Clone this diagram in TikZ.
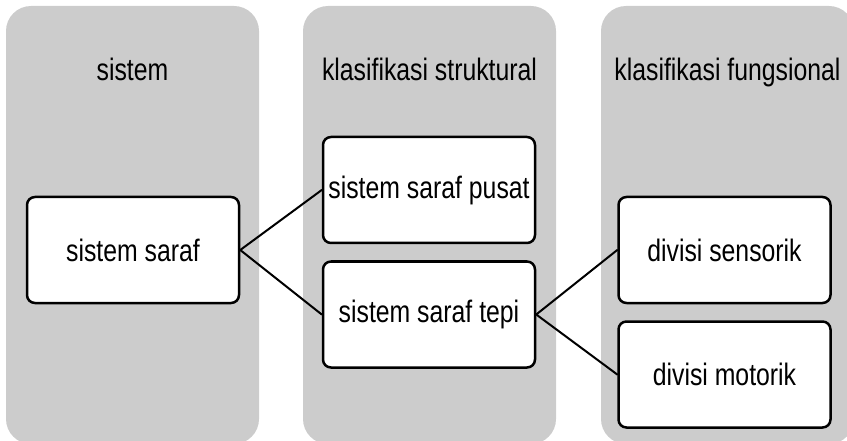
\documentclass[tikz,border=0pt]{standalone}
\usepackage{fontspec}
\setmainfont[FakeStretch=0.8]{Liberation Sans}
\usetikzlibrary{positioning}

\definecolor{panelgray}{RGB}{204,204,204}

\pgfdeclarelayer{panelfill}
\pgfsetlayers{panelfill,main}
\newcommand{\PanelCol}[2]{%
  \begin{pgfonlayer}{panelfill}
    \path[fill=panelgray, rounded corners=25pt] (#1,-6) rectangle (#2,-444);
  \end{pgfonlayer}
}

\begin{document}
\begin{tikzpicture}[
    x=1pt,y=1pt,
    line cap=round,
    line join=round,
    unitbox/.style={draw=black, line width=2.5pt, fill=white,
        rounded corners=8pt, minimum width=212pt, minimum height=106pt,
        inner sep=0pt, font=\fontsize{31}{37}\selectfont},
    collab/.style={anchor=base, font=\fontsize{31}{37}\selectfont},
    branch/.style={draw=black, line width=2pt}
]

\useasboundingbox (0,0) rectangle (847,-441);

% three gray columns
\PanelCol{6}{259}
\PanelCol{303}{556}
\PanelCol{601}{854}

\node[collab] (hsistem) at (132.5,-81) {sistem};
\node[collab] (hstruk)  at (429.5,-81) {klasifikasi struktural};
\node[collab] (hfungsi) at (727.5,-81) {klasifikasi fungsional};

\node[unitbox] (saraf)    at (133,-250)   {sistem saraf};
\node[unitbox] (pusat)    at (429,-190)   {sistem saraf pusat};
\node[unitbox, below=16pt of pusat] (tepi) {sistem saraf tepi};
\node[unitbox] (sensorik) at (724.5,-250) {divisi sensorik};
\node[unitbox, below=16pt of sensorik] (motorik) {divisi motorik};

\draw[branch] (pusat.west) -- (saraf.east) -- (tepi.west);
\draw[branch] (sensorik.west) -- (tepi.east) -- (motorik.west);
\end{tikzpicture}
\end{document}
